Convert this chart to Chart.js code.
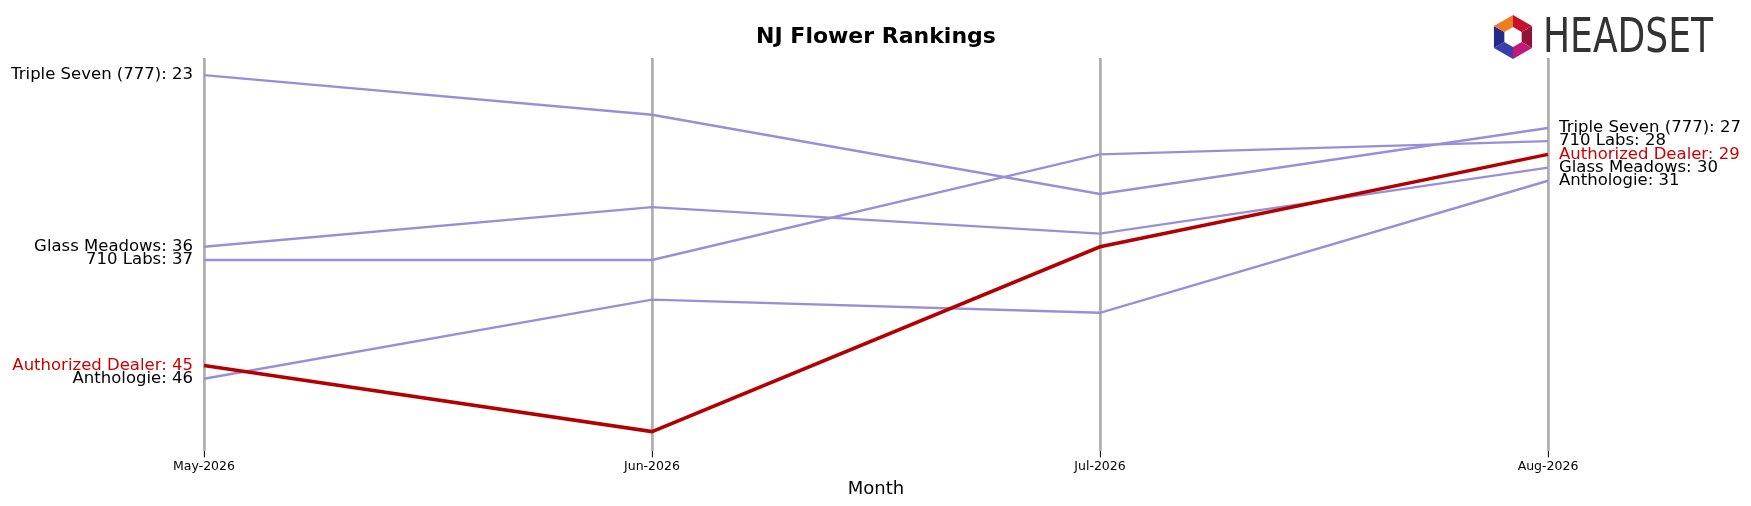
<!DOCTYPE html>
<html><head><meta charset="utf-8">
<script src="https://cdn.jsdelivr.net/npm/chart.js@4/dist/chart.umd.min.js"></script>
<style>body{margin:0;background:#fff}#wrap{width:1751px;height:506px}</style>
</head><body><div id="wrap"><canvas id="c"></canvas></div>
<script>
var months = ["May-2026", "Jun-2026", "Jul-2026", "Aug-2026"];
var brands = ["Triple Seven (777)", "Glass Meadows", "710 Labs", "Anthologie", "Authorized Dealer"];
var tripleSeven = [23, 26, 32, 27];
var glassMeadows = [36, 33, 35, 30];
var labs710 = [37, 37, 29, 28];
var anthologie = [46, 40, 41, 31];
var authorizedDealer = [45, 50, 36, 29];
var series = [tripleSeven, glassMeadows, labs710, anthologie, authorizedDealer];

var datasets = brands.map(function (b, i) {
  var hi = b == "Authorized Dealer";
  return {
    label: b, data: series[i],
    borderColor: hi ? "#b30000" : "#9b8ed8",
    borderWidth: hi ? 3.5 : 2.4,
    pointRadius: 0, fill: false, tension: 0,
    order: hi ? 0 : 1
  };
});

var sideLabels = {
  id: "sideLabels",
  afterDatasetsDraw: function (chart) {
    var c = chart.ctx;
    c.save();
    c.font = "16.5px 'DejaVu Sans'";
    c.textBaseline = "middle";
    chart.data.datasets.forEach(function (ds, i) {
      var meta = chart.getDatasetMeta(i);
      var first = meta.data[0], last = meta.data[meta.data.length - 1];
      c.fillStyle = ds.label == "Authorized Dealer" ? "#cc0000" : "#000";
      c.textAlign = "right";
      c.fillText(ds.label + ": " + ds.data[0], first.x - 11, first.y);
      c.textAlign = "left";
      c.fillText(ds.label + ": " + ds.data[ds.data.length - 1], last.x + 11, last.y);
    });
    // title
    c.fillStyle = "#000";
    c.textAlign = "center";
    c.font = "bold 22px 'DejaVu Sans'";
    c.fillText("NJ Flower Rankings", 876, 37);
    // logo
    var cx = 1513, cy = 37, r = 22;
    var cols = ["#c8102e", "#8e1538", "#c2187a", "#3a3db0", "#252a8a", "#f07c22"];
    for (var k = 0; k < 6; k++) {
      var a0 = (-90 + k * 60) * Math.PI / 180, a1 = (-30 + k * 60) * Math.PI / 180;
      c.beginPath();
      c.moveTo(cx + r * Math.cos(a0), cy + r * Math.sin(a0));
      c.lineTo(cx + r * Math.cos(a1), cy + r * Math.sin(a1));
      c.lineTo(cx + 10 * Math.cos(a1), cy + 10 * Math.sin(a1));
      c.lineTo(cx + 10 * Math.cos(a0), cy + 10 * Math.sin(a0));
      c.closePath();
      c.fillStyle = cols[k];
      c.fill();
    }
    c.fillStyle = "#333";
    c.textAlign = "left";
    c.font = "48px 'DejaVu Sans Condensed'";
    var w = c.measureText("HEADSET").width;
    c.translate(1543, 40);
    c.scale(170 / w, 1);
    c.fillText("HEADSET", 0, 0);
    c.restore();
  }
};

new Chart(document.getElementById("c"), {
  type: "line",
  data: { labels: months, datasets: datasets },
  options: {
    responsive: true, maintainAspectRatio: false, animation: false,
    layout: { padding: { left: 204, right: 203, top: 58, bottom: 2 } },
    plugins: { legend: { display: false }, tooltip: { enabled: false } },
    scales: {
      x: {
        offset: false,
        grid: { color: "#b0b0b0", lineWidth: 2.8, drawTicks: true, tickLength: 6, tickColor: "#000", tickWidth: 1 },
        border: { display: false },
        ticks: { color: "#000", font: { size: 12.5, family: "DejaVu Sans" }, maxRotation: 0, padding: 2 },
        title: { display: true, text: "Month", color: "#000", font: { size: 18, family: "DejaVu Sans" }, padding: { top: 2 } }
      },
      y: {
        reverse: true, min: 21.7, max: 51.5, display: false
      }
    }
  },
  plugins: [sideLabels]
});
</script></body></html>
